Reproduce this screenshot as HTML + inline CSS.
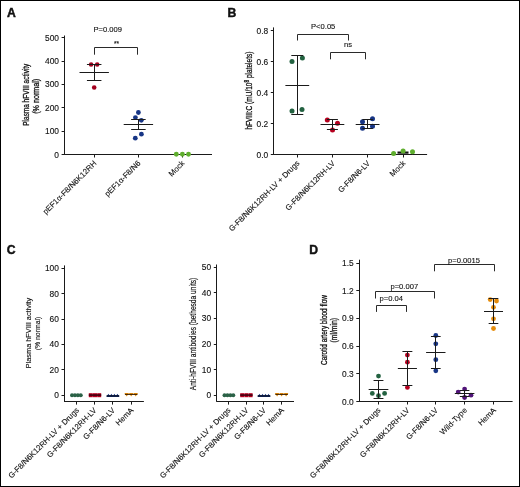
<!DOCTYPE html>
<html><head><meta charset="utf-8"><style>
html,body{margin:0;padding:0;background:#fff;}
#f{position:absolute;left:0;top:0;width:520px;height:487px;box-sizing:border-box;border:1px solid #000;border-right-width:1px;background:#fff;overflow:hidden;}
svg{position:absolute;left:0;top:0;}
text{font-family:"Liberation Sans", sans-serif;fill:#111;stroke:#111;stroke-width:0.12px;}
svg{will-change:transform;}
.pl{stroke-width:0.45px;}
.yl{stroke-width:0.3px;}
</style></head><body>
<div id="f"></div>
<svg width="520" height="487" viewBox="0 0 520 487">
<text x="7.0" y="16.8" font-size="12.2" text-anchor="start" font-weight="bold" class="pl">A</text>
<line x1="64.5" y1="35.5" x2="64.5" y2="154.5" stroke="#1a1a1a" stroke-width="1.0"/>
<line x1="61.6" y1="154.5" x2="64.6" y2="154.5" stroke="#1a1a1a" stroke-width="1.0"/>
<text x="59" y="157.5" font-size="8.4" text-anchor="end">0</text>
<line x1="61.6" y1="131.5" x2="64.6" y2="131.5" stroke="#1a1a1a" stroke-width="1.0"/>
<text x="59" y="134.15" font-size="8.4" text-anchor="end">100</text>
<line x1="61.6" y1="107.5" x2="64.6" y2="107.5" stroke="#1a1a1a" stroke-width="1.0"/>
<text x="59" y="110.8" font-size="8.4" text-anchor="end">200</text>
<line x1="61.6" y1="84.5" x2="64.6" y2="84.5" stroke="#1a1a1a" stroke-width="1.0"/>
<text x="59" y="87.45" font-size="8.4" text-anchor="end">300</text>
<line x1="61.6" y1="61.5" x2="64.6" y2="61.5" stroke="#1a1a1a" stroke-width="1.0"/>
<text x="59" y="64.1" font-size="8.4" text-anchor="end">400</text>
<line x1="61.6" y1="37.5" x2="64.6" y2="37.5" stroke="#1a1a1a" stroke-width="1.0"/>
<text x="59" y="40.75" font-size="8.4" text-anchor="end">500</text>
<line x1="64.1" y1="154.5" x2="212" y2="154.5" stroke="#1a1a1a" stroke-width="1.0"/>
<line x1="94.5" y1="154.5" x2="94.5" y2="157.5" stroke="#1a1a1a" stroke-width="1.0"/>
<line x1="138.5" y1="154.5" x2="138.5" y2="157.5" stroke="#1a1a1a" stroke-width="1.0"/>
<line x1="182.5" y1="154.5" x2="182.5" y2="157.5" stroke="#1a1a1a" stroke-width="1.0"/>
<circle cx="91.1" cy="64.5" r="2.3" fill="#a3001e"/>
<circle cx="97.2" cy="64.5" r="2.3" fill="#a3001e"/>
<circle cx="94.2" cy="87.5" r="2.3" fill="#a3001e"/>
<line x1="94.5" y1="64.5" x2="94.5" y2="80.3" stroke="#1a1a1a" stroke-width="1.0"/>
<line x1="86.95" y1="64.5" x2="101.45" y2="64.5" stroke="#1a1a1a" stroke-width="1.0"/>
<line x1="86.95" y1="80.5" x2="101.45" y2="80.5" stroke="#1a1a1a" stroke-width="1.0"/>
<line x1="79.5" y1="72.5" x2="108.9" y2="72.5" stroke="#1a1a1a" stroke-width="1.0"/>
<circle cx="138.4" cy="112.5" r="2.4" fill="#173585"/>
<circle cx="135.4" cy="117.6" r="2.4" fill="#173585"/>
<circle cx="141.3" cy="120.3" r="2.4" fill="#173585"/>
<circle cx="141.4" cy="134.2" r="2.4" fill="#173585"/>
<circle cx="135.3" cy="138.2" r="2.4" fill="#173585"/>
<line x1="138.5" y1="119.5" x2="138.5" y2="129.1" stroke="#1a1a1a" stroke-width="1.0"/>
<line x1="131.15" y1="119.5" x2="145.65" y2="119.5" stroke="#1a1a1a" stroke-width="1.0"/>
<line x1="131.15" y1="129.5" x2="145.65" y2="129.5" stroke="#1a1a1a" stroke-width="1.0"/>
<line x1="123.7" y1="124.5" x2="153.1" y2="124.5" stroke="#1a1a1a" stroke-width="1.0"/>
<circle cx="176.3" cy="154.2" r="2.45" fill="#5fae2e"/>
<circle cx="182.4" cy="154.2" r="2.45" fill="#5fae2e"/>
<circle cx="188.5" cy="154.2" r="2.45" fill="#5fae2e"/>
<text x="107.8" y="31.8" font-size="7.6" text-anchor="middle">P=0.009</text>
<text x="116.5" y="46.0" font-size="6.5" text-anchor="middle">**</text>
<polyline points="94.5,54.7 94.5,47.5 137.5,47.5 137.5,54.7" fill="none" stroke="#2a2a2a" stroke-width="1"/>
<text x="29.3" y="94.7" font-size="8.8" text-anchor="middle" textLength="62" lengthAdjust="spacingAndGlyphs" transform="rotate(-90 29.3 94.7)" class="yl">Plasma hFVIII activity</text>
<text x="39.4" y="96.3" font-size="8.8" text-anchor="middle" textLength="35" lengthAdjust="spacingAndGlyphs" transform="rotate(-90 39.4 96.3)" class="yl">(% normal)</text>
<text x="97" y="163.8" font-size="7.8" text-anchor="end" transform="rotate(-45 97 163.8)">pEF1α-F8/N6K12RH</text>
<text x="141" y="163.8" font-size="7.8" text-anchor="end" transform="rotate(-45 141 163.8)">pEF1α-F8/N6</text>
<text x="185" y="163.8" font-size="7.8" text-anchor="end" transform="rotate(-45 185 163.8)">Mock</text>
<text x="227.5" y="16.7" font-size="12.2" text-anchor="start" font-weight="bold" class="pl">B</text>
<line x1="273.5" y1="27.4" x2="273.5" y2="154.5" stroke="#1a1a1a" stroke-width="1.0"/>
<line x1="270.8" y1="154.5" x2="273.8" y2="154.5" stroke="#1a1a1a" stroke-width="1.0"/>
<text x="268.2" y="157.5" font-size="8.4" text-anchor="end">0.0</text>
<line x1="270.8" y1="123.5" x2="273.8" y2="123.5" stroke="#1a1a1a" stroke-width="1.0"/>
<text x="268.2" y="126.5" font-size="8.4" text-anchor="end">0.2</text>
<line x1="270.8" y1="92.5" x2="273.8" y2="92.5" stroke="#1a1a1a" stroke-width="1.0"/>
<text x="268.2" y="95.5" font-size="8.4" text-anchor="end">0.4</text>
<line x1="270.8" y1="61.5" x2="273.8" y2="61.5" stroke="#1a1a1a" stroke-width="1.0"/>
<text x="268.2" y="64.5" font-size="8.4" text-anchor="end">0.6</text>
<line x1="270.8" y1="30.5" x2="273.8" y2="30.5" stroke="#1a1a1a" stroke-width="1.0"/>
<text x="268.2" y="33.5" font-size="8.4" text-anchor="end">0.8</text>
<line x1="273.3" y1="154.5" x2="427.1" y2="154.5" stroke="#1a1a1a" stroke-width="1.0"/>
<line x1="297.5" y1="154.5" x2="297.5" y2="157.5" stroke="#1a1a1a" stroke-width="1.0"/>
<line x1="332.5" y1="154.5" x2="332.5" y2="157.5" stroke="#1a1a1a" stroke-width="1.0"/>
<line x1="367.5" y1="154.5" x2="367.5" y2="157.5" stroke="#1a1a1a" stroke-width="1.0"/>
<line x1="403.5" y1="154.5" x2="403.5" y2="157.5" stroke="#1a1a1a" stroke-width="1.0"/>
<circle cx="292" cy="61.5" r="2.5" fill="#236241"/>
<circle cx="302.4" cy="58.1" r="2.5" fill="#236241"/>
<circle cx="292" cy="111" r="2.5" fill="#236241"/>
<circle cx="302" cy="109.5" r="2.5" fill="#236241"/>
<line x1="297.5" y1="55.8" x2="297.5" y2="114.3" stroke="#1a1a1a" stroke-width="1.0"/>
<line x1="291.3" y1="55.5" x2="303.3" y2="55.5" stroke="#1a1a1a" stroke-width="1.0"/>
<line x1="291.3" y1="114.5" x2="303.3" y2="114.5" stroke="#1a1a1a" stroke-width="1.0"/>
<line x1="285.4" y1="85.5" x2="309.2" y2="85.5" stroke="#1a1a1a" stroke-width="1.0"/>
<circle cx="327.3" cy="120" r="2.5" fill="#b5001f"/>
<circle cx="337.5" cy="123.3" r="2.5" fill="#b5001f"/>
<circle cx="332.5" cy="130" r="2.5" fill="#b5001f"/>
<line x1="332.5" y1="119.5" x2="332.5" y2="129.3" stroke="#1a1a1a" stroke-width="1.0"/>
<line x1="326.9" y1="119.5" x2="337.9" y2="119.5" stroke="#1a1a1a" stroke-width="1.0"/>
<line x1="326.9" y1="129.5" x2="337.9" y2="129.5" stroke="#1a1a1a" stroke-width="1.0"/>
<line x1="320.5" y1="124.5" x2="344.3" y2="124.5" stroke="#1a1a1a" stroke-width="1.0"/>
<circle cx="362.5" cy="121.8" r="2.5" fill="#173585"/>
<circle cx="372.5" cy="118.8" r="2.5" fill="#173585"/>
<circle cx="362.5" cy="128.3" r="2.5" fill="#173585"/>
<circle cx="372.5" cy="126.3" r="2.5" fill="#173585"/>
<line x1="367.5" y1="119.5" x2="367.5" y2="128.3" stroke="#1a1a1a" stroke-width="1.0"/>
<line x1="362.35" y1="119.5" x2="372.85" y2="119.5" stroke="#1a1a1a" stroke-width="1.0"/>
<line x1="362.35" y1="128.5" x2="372.85" y2="128.5" stroke="#1a1a1a" stroke-width="1.0"/>
<line x1="355.7" y1="124.5" x2="379.5" y2="124.5" stroke="#1a1a1a" stroke-width="1.0"/>
<rect x="397.5" y="151.5" width="11" height="2.2" fill="#111"/>
<circle cx="393.6" cy="153.4" r="2.5" fill="#5fae2e"/>
<circle cx="403.1" cy="151.1" r="2.5" fill="#5fae2e"/>
<circle cx="412.5" cy="151.7" r="2.5" fill="#5fae2e"/>
<text x="323.2" y="28.9" font-size="7.6" text-anchor="middle">P&lt;0.05</text>
<polyline points="297.5,40.5 297.5,34.5 348.5,34.5 348.5,40.5" fill="none" stroke="#2a2a2a" stroke-width="1"/>
<text x="348.0" y="47.3" font-size="7.6" text-anchor="middle">ns</text>
<polyline points="330.5,59.3 330.5,52.5 365.5,52.5 365.5,59.3" fill="none" stroke="#2a2a2a" stroke-width="1"/>
<text x="251.8" y="90.6" font-size="8.8" text-anchor="middle" textLength="78" lengthAdjust="spacingAndGlyphs" transform="rotate(-90 251.8 90.6)" class="yl">hFVIII:C (mU/10<tspan font-size="6.6" dy="-3.0">8</tspan><tspan dy="3.0"> platelets)</tspan></text>
<text x="300" y="163.8" font-size="7.8" text-anchor="end" transform="rotate(-45 300 163.8)">G-F8/N6K12RH-LV + Drugs</text>
<text x="335.5" y="163.8" font-size="7.8" text-anchor="end" transform="rotate(-45 335.5 163.8)">G-F8/N6K12RH-LV</text>
<text x="370.5" y="163.8" font-size="7.8" text-anchor="end" transform="rotate(-45 370.5 163.8)">G-F8/N6-LV</text>
<text x="406" y="163.8" font-size="7.8" text-anchor="end" transform="rotate(-45 406 163.8)">Mock</text>
<text x="6.7" y="253.9" font-size="12.2" text-anchor="start" font-weight="bold" class="pl">C</text>
<line x1="64.5" y1="265.4" x2="64.5" y2="401.6" stroke="#1a1a1a" stroke-width="1.0"/>
<line x1="61.5" y1="395.5" x2="64.5" y2="395.5" stroke="#1a1a1a" stroke-width="1.0"/>
<text x="58.9" y="398.2" font-size="8.4" text-anchor="end">0</text>
<line x1="61.5" y1="369.5" x2="64.5" y2="369.5" stroke="#1a1a1a" stroke-width="1.0"/>
<text x="58.9" y="372.8" font-size="8.4" text-anchor="end">20</text>
<line x1="61.5" y1="344.5" x2="64.5" y2="344.5" stroke="#1a1a1a" stroke-width="1.0"/>
<text x="58.9" y="347.4" font-size="8.4" text-anchor="end">40</text>
<line x1="61.5" y1="319.5" x2="64.5" y2="319.5" stroke="#1a1a1a" stroke-width="1.0"/>
<text x="58.9" y="322.0" font-size="8.4" text-anchor="end">60</text>
<line x1="61.5" y1="293.5" x2="64.5" y2="293.5" stroke="#1a1a1a" stroke-width="1.0"/>
<text x="58.9" y="296.6" font-size="8.4" text-anchor="end">80</text>
<line x1="61.5" y1="268.5" x2="64.5" y2="268.5" stroke="#1a1a1a" stroke-width="1.0"/>
<text x="58.9" y="271.2" font-size="8.4" text-anchor="end">100</text>
<line x1="64.0" y1="401.5" x2="143.9" y2="401.5" stroke="#1a1a1a" stroke-width="1.0"/>
<line x1="76.5" y1="401.6" x2="76.5" y2="404.6" stroke="#1a1a1a" stroke-width="1.0"/>
<line x1="94.5" y1="401.6" x2="94.5" y2="404.6" stroke="#1a1a1a" stroke-width="1.0"/>
<line x1="112.5" y1="401.6" x2="112.5" y2="404.6" stroke="#1a1a1a" stroke-width="1.0"/>
<line x1="131.5" y1="401.6" x2="131.5" y2="404.6" stroke="#1a1a1a" stroke-width="1.0"/>
<text x="31.3" y="333" font-size="8.1" text-anchor="middle" textLength="70.5" lengthAdjust="spacingAndGlyphs" transform="rotate(-90 31.3 333)" class="yl" style="stroke-width:0.12px">Plasma hFVIII activity</text>
<text x="40.2" y="333.5" font-size="8.1" text-anchor="middle" textLength="33.7" lengthAdjust="spacingAndGlyphs" transform="rotate(-90 40.2 333.5)" class="yl" style="stroke-width:0.12px">(% normal)</text>
<text x="79.5" y="410.8" font-size="7.8" text-anchor="end" transform="rotate(-45 79.5 410.8)">G-F8/N6K12RH-LV + Drugs</text>
<text x="97" y="410.8" font-size="7.8" text-anchor="end" transform="rotate(-45 97 410.8)">G-F8/N6K12RH-LV</text>
<text x="115.5" y="410.8" font-size="7.8" text-anchor="end" transform="rotate(-45 115.5 410.8)">G-F8/N6-LV</text>
<text x="134" y="410.8" font-size="7.8" text-anchor="end" transform="rotate(-45 134 410.8)">HemA</text>
<line x1="216.5" y1="264.5" x2="216.5" y2="401.6" stroke="#1a1a1a" stroke-width="1.0"/>
<line x1="213.8" y1="395.5" x2="216.8" y2="395.5" stroke="#1a1a1a" stroke-width="1.0"/>
<text x="211.2" y="398.2" font-size="8.4" text-anchor="end">0</text>
<line x1="213.8" y1="369.5" x2="216.8" y2="369.5" stroke="#1a1a1a" stroke-width="1.0"/>
<text x="211.2" y="372.6" font-size="8.4" text-anchor="end">10</text>
<line x1="213.8" y1="344.5" x2="216.8" y2="344.5" stroke="#1a1a1a" stroke-width="1.0"/>
<text x="211.2" y="347.0" font-size="8.4" text-anchor="end">20</text>
<line x1="213.8" y1="318.5" x2="216.8" y2="318.5" stroke="#1a1a1a" stroke-width="1.0"/>
<text x="211.2" y="321.4" font-size="8.4" text-anchor="end">30</text>
<line x1="213.8" y1="292.5" x2="216.8" y2="292.5" stroke="#1a1a1a" stroke-width="1.0"/>
<text x="211.2" y="295.8" font-size="8.4" text-anchor="end">40</text>
<line x1="213.8" y1="267.5" x2="216.8" y2="267.5" stroke="#1a1a1a" stroke-width="1.0"/>
<text x="211.2" y="270.2" font-size="8.4" text-anchor="end">50</text>
<line x1="216.3" y1="401.5" x2="294" y2="401.5" stroke="#1a1a1a" stroke-width="1.0"/>
<line x1="228.5" y1="401.6" x2="228.5" y2="404.6" stroke="#1a1a1a" stroke-width="1.0"/>
<line x1="246.5" y1="401.6" x2="246.5" y2="404.6" stroke="#1a1a1a" stroke-width="1.0"/>
<line x1="263.5" y1="401.6" x2="263.5" y2="404.6" stroke="#1a1a1a" stroke-width="1.0"/>
<line x1="281.5" y1="401.6" x2="281.5" y2="404.6" stroke="#1a1a1a" stroke-width="1.0"/>
<text x="196.2" y="334" font-size="8.8" text-anchor="middle" textLength="112.5" lengthAdjust="spacingAndGlyphs" transform="rotate(-90 196.2 334)" class="yl" style="stroke-width:0.18px">Anti-hFVIII antibodies (bethesda units)</text>
<text x="231" y="410.8" font-size="7.8" text-anchor="end" transform="rotate(-45 231 410.8)">G-F8/N6K12RH-LV + Drugs</text>
<text x="249" y="410.8" font-size="7.8" text-anchor="end" transform="rotate(-45 249 410.8)">G-F8/N6K12RH-LV</text>
<text x="266.5" y="410.8" font-size="7.8" text-anchor="end" transform="rotate(-45 266.5 410.8)">G-F8/N6-LV</text>
<text x="284.5" y="410.8" font-size="7.8" text-anchor="end" transform="rotate(-45 284.5 410.8)">HemA</text>
<circle cx="72.03" cy="395.3" r="2.0" fill="#2b6247"/>
<circle cx="74.94" cy="395.3" r="2.0" fill="#2b6247"/>
<circle cx="77.85" cy="395.3" r="2.0" fill="#2b6247"/>
<circle cx="80.76" cy="395.3" r="2.0" fill="#2b6247"/>
<rect x="88.8" y="393.2" width="4" height="4" fill="#b5001f"/>
<rect x="93.0" y="393.2" width="4" height="4" fill="#b5001f"/>
<rect x="97.2" y="393.2" width="4" height="4" fill="#b5001f"/>
<rect x="88.8" y="394.2" width="12.4" height="1.8" fill="#3a0010" opacity="0.85"/>
<polygon points="106.4,396.90000000000003 110.4,396.90000000000003 108.4,393.7" fill="#173585"/>
<polygon points="109.4,396.90000000000003 113.4,396.90000000000003 111.4,393.7" fill="#173585"/>
<polygon points="112.4,396.90000000000003 116.4,396.90000000000003 114.4,393.7" fill="#173585"/>
<polygon points="115.4,396.90000000000003 119.4,396.90000000000003 117.4,393.7" fill="#173585"/>
<rect x="106.6" y="395.1" width="12.6" height="1.6" fill="#0a1530"/>
<polygon points="124.39999999999999,393.0 129.0,393.0 126.69999999999999,396.59999999999997" fill="#e68c0a"/>
<polygon points="128.89999999999998,393.0 133.5,393.0 131.2,396.59999999999997" fill="#e68c0a"/>
<polygon points="133.39999999999998,393.0 138.0,393.0 135.7,396.59999999999997" fill="#e68c0a"/>
<rect x="124.9" y="393.9" width="12.6" height="1.0" fill="#3a2000"/>
<circle cx="224.53" cy="395.3" r="2.0" fill="#2b6247"/>
<circle cx="227.44" cy="395.3" r="2.0" fill="#2b6247"/>
<circle cx="230.36" cy="395.3" r="2.0" fill="#2b6247"/>
<circle cx="233.27" cy="395.3" r="2.0" fill="#2b6247"/>
<rect x="240.2" y="393.2" width="4" height="4" fill="#b5001f"/>
<rect x="244.4" y="393.2" width="4" height="4" fill="#b5001f"/>
<rect x="248.6" y="393.2" width="4" height="4" fill="#b5001f"/>
<rect x="240.2" y="394.2" width="12.4" height="1.8" fill="#3a0010" opacity="0.85"/>
<polygon points="257.5,396.90000000000003 261.5,396.90000000000003 259.5,393.7" fill="#173585"/>
<polygon points="260.5,396.90000000000003 264.5,396.90000000000003 262.5,393.7" fill="#173585"/>
<polygon points="263.5,396.90000000000003 267.5,396.90000000000003 265.5,393.7" fill="#173585"/>
<polygon points="266.5,396.90000000000003 270.5,396.90000000000003 268.5,393.7" fill="#173585"/>
<rect x="257.7" y="395.1" width="12.6" height="1.6" fill="#0a1530"/>
<polygon points="274.8,393.0 279.40000000000003,393.0 277.1,396.59999999999997" fill="#e68c0a"/>
<polygon points="279.3,393.0 283.90000000000003,393.0 281.6,396.59999999999997" fill="#e68c0a"/>
<polygon points="283.8,393.0 288.40000000000003,393.0 286.1,396.59999999999997" fill="#e68c0a"/>
<rect x="275.3" y="393.9" width="12.6" height="1.0" fill="#3a2000"/>
<text x="309.2" y="253.6" font-size="12.2" text-anchor="start" font-weight="bold" class="pl">D</text>
<line x1="359.5" y1="259.7" x2="359.5" y2="401.5" stroke="#1a1a1a" stroke-width="1.0"/>
<line x1="356.3" y1="401.5" x2="359.3" y2="401.5" stroke="#1a1a1a" stroke-width="1.0"/>
<text x="353.7" y="404.5" font-size="8.4" text-anchor="end">0.0</text>
<line x1="356.3" y1="373.5" x2="359.3" y2="373.5" stroke="#1a1a1a" stroke-width="1.0"/>
<text x="353.7" y="376.81" font-size="8.4" text-anchor="end">0.3</text>
<line x1="356.3" y1="346.5" x2="359.3" y2="346.5" stroke="#1a1a1a" stroke-width="1.0"/>
<text x="353.7" y="349.12" font-size="8.4" text-anchor="end">0.6</text>
<line x1="356.3" y1="318.5" x2="359.3" y2="318.5" stroke="#1a1a1a" stroke-width="1.0"/>
<text x="353.7" y="321.43" font-size="8.4" text-anchor="end">0.9</text>
<line x1="356.3" y1="290.5" x2="359.3" y2="290.5" stroke="#1a1a1a" stroke-width="1.0"/>
<text x="353.7" y="293.74" font-size="8.4" text-anchor="end">1.2</text>
<line x1="356.3" y1="263.5" x2="359.3" y2="263.5" stroke="#1a1a1a" stroke-width="1.0"/>
<text x="353.7" y="266.05" font-size="8.4" text-anchor="end">1.5</text>
<line x1="358.8" y1="401.5" x2="512.6" y2="401.5" stroke="#1a1a1a" stroke-width="1.0"/>
<line x1="378.5" y1="401.5" x2="378.5" y2="404.5" stroke="#1a1a1a" stroke-width="1.0"/>
<line x1="407.5" y1="401.5" x2="407.5" y2="404.5" stroke="#1a1a1a" stroke-width="1.0"/>
<line x1="435.5" y1="401.5" x2="435.5" y2="404.5" stroke="#1a1a1a" stroke-width="1.0"/>
<line x1="464.5" y1="401.5" x2="464.5" y2="404.5" stroke="#1a1a1a" stroke-width="1.0"/>
<line x1="493.5" y1="401.5" x2="493.5" y2="404.5" stroke="#1a1a1a" stroke-width="1.0"/>
<circle cx="378.5" cy="376.1" r="2.4" fill="#236241"/>
<circle cx="372.3" cy="393.4" r="2.4" fill="#236241"/>
<circle cx="378.5" cy="395.7" r="2.4" fill="#236241"/>
<circle cx="384.6" cy="393.4" r="2.4" fill="#236241"/>
<line x1="378.5" y1="380.7" x2="378.5" y2="398.5" stroke="#1a1a1a" stroke-width="1.0"/>
<line x1="373.55" y1="380.5" x2="383.45" y2="380.5" stroke="#1a1a1a" stroke-width="1.0"/>
<line x1="373.55" y1="398.5" x2="383.45" y2="398.5" stroke="#1a1a1a" stroke-width="1.0"/>
<line x1="368.65" y1="389.5" x2="388.35" y2="389.5" stroke="#1a1a1a" stroke-width="1.0"/>
<circle cx="407.4" cy="355.1" r="2.4" fill="#b5001f"/>
<circle cx="407.4" cy="362.2" r="2.4" fill="#b5001f"/>
<circle cx="407.4" cy="387.4" r="2.4" fill="#b5001f"/>
<line x1="407.5" y1="351.2" x2="407.5" y2="385.3" stroke="#1a1a1a" stroke-width="1.0"/>
<line x1="402.45" y1="351.5" x2="412.35" y2="351.5" stroke="#1a1a1a" stroke-width="1.0"/>
<line x1="402.45" y1="385.5" x2="412.35" y2="385.5" stroke="#1a1a1a" stroke-width="1.0"/>
<line x1="397.85" y1="368.5" x2="416.95" y2="368.5" stroke="#1a1a1a" stroke-width="1.0"/>
<circle cx="435.8" cy="335.5" r="2.4" fill="#173585"/>
<circle cx="435.8" cy="343.8" r="2.4" fill="#173585"/>
<circle cx="435.8" cy="359.7" r="2.4" fill="#173585"/>
<circle cx="435.8" cy="370.8" r="2.4" fill="#173585"/>
<line x1="435.5" y1="336.6" x2="435.5" y2="368.5" stroke="#1a1a1a" stroke-width="1.0"/>
<line x1="430.95" y1="336.5" x2="440.65" y2="336.5" stroke="#1a1a1a" stroke-width="1.0"/>
<line x1="430.95" y1="368.5" x2="440.65" y2="368.5" stroke="#1a1a1a" stroke-width="1.0"/>
<line x1="426.1" y1="352.5" x2="445.5" y2="352.5" stroke="#1a1a1a" stroke-width="1.0"/>
<circle cx="464.6" cy="389.1" r="2.4" fill="#501478"/>
<circle cx="458.2" cy="392.1" r="2.4" fill="#501478"/>
<circle cx="471.0" cy="395.2" r="2.4" fill="#501478"/>
<circle cx="464.6" cy="397.5" r="2.4" fill="#501478"/>
<line x1="464.5" y1="390.2" x2="464.5" y2="396.5" stroke="#1a1a1a" stroke-width="1.0"/>
<line x1="459.8" y1="390.5" x2="469.4" y2="390.5" stroke="#1a1a1a" stroke-width="1.0"/>
<line x1="459.8" y1="396.5" x2="469.4" y2="396.5" stroke="#1a1a1a" stroke-width="1.0"/>
<line x1="454.8" y1="393.5" x2="474.4" y2="393.5" stroke="#1a1a1a" stroke-width="1.0"/>
<circle cx="490.2" cy="299.6" r="2.4" fill="#e68c0a"/>
<circle cx="496.5" cy="301" r="2.4" fill="#e68c0a"/>
<circle cx="493.5" cy="307.3" r="2.4" fill="#e68c0a"/>
<circle cx="493.5" cy="318.8" r="2.4" fill="#e68c0a"/>
<circle cx="493.5" cy="328.5" r="2.4" fill="#e68c0a"/>
<line x1="493.5" y1="298.1" x2="493.5" y2="323.5" stroke="#1a1a1a" stroke-width="1.0"/>
<line x1="488.65" y1="298.5" x2="498.35" y2="298.5" stroke="#1a1a1a" stroke-width="1.0"/>
<line x1="488.65" y1="323.5" x2="498.35" y2="323.5" stroke="#1a1a1a" stroke-width="1.0"/>
<line x1="484.0" y1="311.5" x2="503.0" y2="311.5" stroke="#1a1a1a" stroke-width="1.0"/>
<polyline points="434.5,271.3 434.5,264.5 494.5,264.5 494.5,271.3" fill="none" stroke="#2a2a2a" stroke-width="1"/>
<text x="464.0" y="263.4" font-size="7.6" text-anchor="middle">p=0.0015</text>
<polyline points="375.5,298.5 375.5,291.5 434.5,291.5 434.5,298.5" fill="none" stroke="#2a2a2a" stroke-width="1"/>
<text x="404.3" y="288.9" font-size="7.6" text-anchor="middle">p=0.007</text>
<polyline points="376.5,311.9 376.5,305.5 406.5,305.5 406.5,311.9" fill="none" stroke="#2a2a2a" stroke-width="1"/>
<text x="391.3" y="300.5" font-size="7.6" text-anchor="middle">p=0.04</text>
<text x="327.0" y="330" font-size="8.8" text-anchor="middle" textLength="69.8" lengthAdjust="spacingAndGlyphs" transform="rotate(-90 327.0 330)" class="yl">Carotid artery blood flow</text>
<text x="336.8" y="330.2" font-size="8.8" text-anchor="middle" textLength="24.6" lengthAdjust="spacingAndGlyphs" transform="rotate(-90 336.8 330.2)" class="yl">(ml/min)</text>
<text x="381" y="410.8" font-size="7.8" text-anchor="end" transform="rotate(-45 381 410.8)">G-F8/N6K12RH-LV + Drugs</text>
<text x="410" y="410.8" font-size="7.8" text-anchor="end" transform="rotate(-45 410 410.8)">G-F8/N6K12RH-LV</text>
<text x="438.5" y="410.8" font-size="7.8" text-anchor="end" transform="rotate(-45 438.5 410.8)">G-F8/N6-LV</text>
<text x="467.5" y="410.8" font-size="7.8" text-anchor="end" transform="rotate(-45 467.5 410.8)">Wild-Type</text>
<text x="496.5" y="410.8" font-size="7.8" text-anchor="end" transform="rotate(-45 496.5 410.8)">HemA</text>
</svg>
</body></html>
